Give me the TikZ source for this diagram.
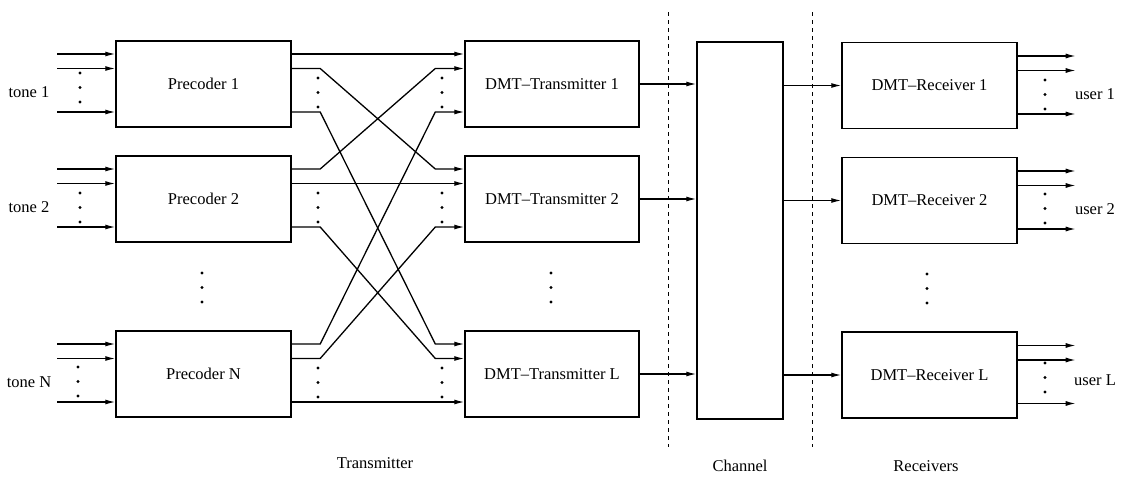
\documentclass[tikz,border=0pt]{standalone}
\usepackage{fontspec}
\setmainfont{Liberation Serif}
\usetikzlibrary{arrows.meta,calc}
\begin{document}
\begin{tikzpicture}[x=1pt,y=-1pt,
  block/.style={draw, line width=1.4pt, minimum width=175pt, minimum height=86pt,
                inner sep=0pt, font=\fontsize{16.5}{19}\selectfont},
  sig/.style={line width=1.3pt, -{Latex[length=10pt,width=5pt]}},
  lbl/.style={font=\fontsize{16.5}{19}\selectfont, inner sep=0pt},
  sep/.style={line width=1pt, dash pattern=on 4pt off 4pt}]

\useasboundingbox (0,0) rectangle (1125,479);

% ---------- blocks ----------
\node[block] (P1) at (203.5,84)  {Precoder 1};
\node[block] (P2) at (203.5,199) {Precoder 2};
\node[block] (PN) at (203.5,374) {Precoder N};

\node[block, minimum width=174pt] (T1) at (552,84)  {DMT--Transmitter 1};
\node[block, minimum width=174pt] (T2) at (552,199) {DMT--Transmitter 2};
\node[block, minimum width=174pt] (TL) at (552,374) {DMT--Transmitter L};

\node[block, minimum width=86pt, minimum height=377pt] (C) at (740,230.5) {};

\node[block] (R1) at (929.5,85.5) {DMT--Receiver 1};
\node[block] (R2) at (929.5,200.5) {DMT--Receiver 2};
\node[block] (RL) at (929.5,375)  {DMT--Receiver L};

% ---------- ports: three per block side ----------
\foreach \b in {P1,P2,PN}{
  \foreach \k/\dy in {a/-30,b/-15.5,c/28}{
    \coordinate (\b\k i) at ($(\b.west)+(0,\dy)$);
    \coordinate (\b\k s) at ($(\b.west)+(-58,\dy)$);
    \coordinate (\b\k o) at ($(\b.east)+(0,\dy)$);
    \draw[sig] (\b\k s) -- (\b\k i);
  }
}
\foreach \b in {T1,T2,TL}{
  \foreach \k/\dy in {a/-30,b/-15.5,c/28}{
    \coordinate (\b\k i) at ($(\b.west)+(0,\dy)$);
  }
}
\foreach \b in {R1,R2,RL}{
  \foreach \k/\dy in {a/-29.5,b/-15,c/28.5}{
    \coordinate (\b\k o) at ($(\b.east)+(0,\dy)$);
    \coordinate (\b\k e) at ($(\b.east)+(58,\dy)$);
    \draw[sig] (\b\k o) -- (\b\k e);
  }
}

% ---------- precoder to transmitter cross wiring ----------
\draw[sig] (P1ao) -- (T1ai);
\draw[sig] (P1bo) -- ++(28.5,0) -- ($(T2ai)+(-29,0)$) -- (T2ai);
\draw[sig] (P1co) -- ++(28.5,0) -- ($(TLai)+(-29,0)$) -- (TLai);
\draw[sig] (P2ao) -- ++(28.5,0) -- ($(T1bi)+(-29,0)$) -- (T1bi);
\draw[sig] (P2bo) -- (T2bi);
\draw[sig] (P2co) -- ++(28.5,0) -- ($(TLbi)+(-29,0)$) -- (TLbi);
\draw[sig] (PNao) -- ++(28.5,0) -- ($(T1ci)+(-29,0)$) -- (T1ci);
\draw[sig] (PNbo) -- ++(28.5,0) -- ($(T2ci)+(-29,0)$) -- (T2ci);
\draw[sig] (PNco) -- (TLci);

% ---------- transmitters -> channel -> receivers ----------
\foreach \t in {T1,T2,TL}{
  \draw[sig] (\t.east) -- (\t.east -| C.west);
}
\foreach \r in {R1,R2,RL}{
  \draw[sig] (\r.west -| C.east) -- (\r.west);
}

% ---------- separators ----------
\coordinate (S1t) at (668,12);  \coordinate (S1b) at (668,447);
\coordinate (S2t) at (812,12);  \coordinate (S2b) at (812,447);
\draw[sep] (S1t) -- (S1b);
\draw[sep] (S2t) -- (S2b);

% ---------- ellipsis dots ----------
\foreach \x/\y in {80/73, 80/193, 78/367,
                   318/78, 318/193, 318/368,
                   442/78, 442/193, 442/368,
                   1045/80, 1045/194, 1045/363,
                   202/273, 551/273, 927/274}{
  \foreach \i in {0,1,2}{
    \fill (\x,\y+14.5*\i) circle (1.6pt);
  }
}

% ---------- labels ----------
\node[lbl] (t1) at (29,92)  {tone 1};
\node[lbl] (t2) at (29,207) {tone 2};
\node[lbl] (tN) at (29,382) {tone N};
\node[lbl] (u1) at (1095,94)  {user 1};
\node[lbl] (u2) at (1095,209) {user 2};
\node[lbl] (uL) at (1095,380) {user L};

\node[lbl] (lt) at (375,463) {Transmitter};
\node[lbl] (lc) at (740,466) {Channel};
\node[lbl] (lr) at (926,466) {Receivers};
\end{tikzpicture}
\end{document}
